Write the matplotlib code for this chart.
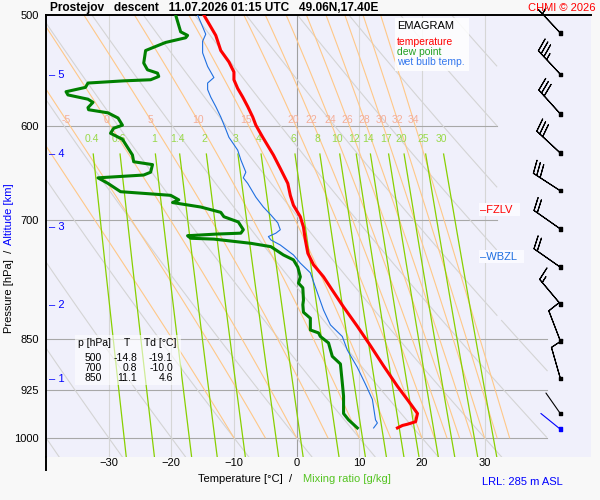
import numpy as np
import matplotlib.pyplot as plt
from matplotlib.patches import Rectangle
from matplotlib.lines import Line2D
from matplotlib.ticker import NullLocator

plt.rcParams['font.family'] = ['Liberation Sans', 'DejaVu Sans']

# --- sounding (descent) ---
temp_p = [500, 517, 530, 540, 549, 556, 564, 572, 581, 591, 599, 611, 629, 643, 659, 672, 683, 696,
          708, 723, 739, 753, 768, 785, 807, 833, 860, 889, 919, 946, 961, 974, 978, 980, 984]
temp_t = [-14.8, -12.9, -12.1, -10.8, -10.0, -10.0, -9.4, -8.6, -7.8, -7.0, -6.5, -5.4, -3.7, -2.6,
          -1.4, -1.0, -0.5, 0.6, 1.1, 1.4, 1.8, 2.7, 4.3, 5.7, 7.5, 9.7, 11.8, 13.9, 16.1, 18.2,
          19.3, 19.0, 17.7, 16.9, 16.1]

dew_p = [500, 514, 517, 519, 523, 530, 541, 547, 550, 553, 556, 557, 559, 563, 567, 570, 574, 577,
         582, 584, 587, 592, 599, 602, 607, 613, 621, 629, 636, 639, 647, 650, 653, 659, 668, 672,
         677, 680, 685, 691, 696, 702, 711, 715, 716, 718, 721, 722, 727, 731, 741, 747, 756, 768,
         776, 782, 798, 804, 814, 822, 838, 842, 847, 856, 875, 886, 914, 934, 961, 971, 984]
dew_t = [-19.3, -18.5, -17.4, -17.7, -20.9, -24.1, -24.4, -23.8, -22.2, -22.0, -23.3, -27.6, -33.3,
         -33.7, -36.8, -36.5, -33.3, -32.5, -33.3, -33.2, -30.1, -28.5, -27.8, -29.2, -29.7, -27.8,
         -27.0, -26.2, -26.0, -23.0, -23.3, -24.4, -31.7, -30.1, -28.1, -20.1, -18.8, -19.8, -15.3,
         -12.1, -11.6, -9.3, -8.5, -8.9, -12.6, -17.4, -16.9, -13.2, -7.3, -4.1, -2.1, -0.5, 0.2,
         0.6, 0.3, 1.0, 1.1, 1.0, 1.1, 2.2, 2.2, 3.5, 3.8, 5.1, 5.7, 7.0, 7.3, 7.5, 7.5, 8.3, 9.7]

wet_p = [500, 506, 516, 522, 532, 544, 554, 559, 565, 572, 581, 591, 603, 611, 624, 634, 647, 653,
         659, 674, 685, 694, 703, 711, 715, 719, 723, 729, 741, 751, 763, 781, 811, 831, 847, 866,
         891, 916, 939, 971, 976, 984]
wet_t = [-15.8, -15.3, -14.5, -15.0, -15.0, -14.2, -13.2, -14.2, -14.2, -13.7, -12.9, -12.1, -11.3,
         -10.8, -9.4, -8.9, -8.1, -8.5, -7.8, -6.5, -5.3, -4.1, -3.0, -2.6, -3.3, -4.5, -4.1, -2.6,
         -0.5, 0.6, 2.2, 3.0, 4.3, 5.4, 7.3, 8.1, 9.7, 11.0, 12.1, 12.6, 12.9, 12.3]

# wind (deg, kt)
wind_p = [515, 551, 588, 627, 667, 710, 756, 803, 853, 907, 961, 986]
wind_dir = [317, 317, 318, 313, 303, 305, 305, 320, 339, 344, 325, 309]
wind_spd = [5, 35, 30, 30, 30, 20, 20, 15, 10, 10, 0, 0]

alt_km = [1, 2, 3, 4, 5]
alt_p = [908, 805, 708, 628, 552]

fzlv_p = 688
wbzl_p = 743

tab_p = [500, 700, 850]
tab_t = [-14.8, 0.8, 11.1]
tab_td = [-19.1, -10.0, 4.6]

p_ticks = [500, 600, 700, 850, 925, 1000]
t_ticks = [-30, -20, -10, 0, 10, 20, 30]
dry_theta = list(range(-40, 110, 10))
wet_theta = [-10, -5, 0, 5, 10, 15, 20, 22, 24, 26, 28, 30, 32, 34]
mix_ratio = [0.4, 0.6, 1, 1.4, 2, 3, 4, 6, 8, 10, 12, 14, 17, 20, 25, 30]

P_TOP, P_BOT = 500, 1032


def px(x, y):
    return x / 600, 1 - y / 500


def clip(t, p):
    t = np.array(t, float)
    lim = np.where(p < 825, 32.0, 40.0)
    t[t > lim] = np.nan
    return t


def pseudo_adiabat(tw, p):
    Rd, cp, Lv, eps = 287.04, 1005.7, 2.501e6, 0.622
    T = tw + 273.15
    out = [T]
    for i in range(1, len(p)):
        dp = p[i] - p[i - 1]
        for _ in range(2):
            tc = T - 273.15
            es = 6.112 * np.exp(17.67 * tc / (tc + 243.5))
            rs = eps * es / (p[i - 1] - es)
            dtdp = (Rd * T + Lv * rs) / (p[i - 1] * (cp + Lv ** 2 * rs * eps / (Rd * T ** 2)))
            T = T + dtdp * dp / 2
        out.append(T)
    return np.array(out) - 273.15


def mix_temp(w, p):
    e = w / 1000 * p / (0.622 + w / 1000)
    a = np.log(e / 6.112)
    return 243.5 * a / (17.67 - a)


fig = plt.figure(figsize=(6, 5), dpi=100, facecolor='#f8f8f8')
ax = fig.add_axes([46 / 600, 1 - 457 / 500, 545 / 600, 442 / 500])
ax.set_facecolor('#f0f0fb')
ax.set_yscale('log')
ax.set_xlim(-40, 47)
ax.set_ylim(P_BOT, P_TOP)

# grid
for t in t_ticks:
    ax.axvline(t, color='#a0a0a0' if t == 0 else '#d6d6d6', lw=0.8, zorder=1)
for p in p_ticks[1:]:
    ax.plot([-40, 32 if p < 800 else 40], [p, p], color='#a8a8a8', lw=0.8, zorder=1)

# dry adiabats
pp = np.geomspace(P_TOP, P_BOT, 600)
for th in dry_theta:
    tt = (th + 273.15) * (pp / 1000) ** 0.2857 - 273.15
    ax.plot(clip(tt, pp), pp, color='#d4d4d4', lw=0.8, zorder=1)

# moist adiabats
pm = np.geomspace(1000, P_TOP, 400)
for tw in wet_theta:
    tt = pseudo_adiabat(tw, pm)
    ax.plot(clip(tt, pm), pm, color='#ffc888', lw=0.8, zorder=1)
    if tw >= -5:
        tl = np.interp(np.log(594), np.log(pm[::-1]), tt[::-1])
        ax.text(tl, 594, f'{tw:g}', color='#f4ae98', fontsize=7.5, ha='center', va='center', zorder=2)

# mixing ratio lines
pw = np.geomspace(628, P_BOT, 300)
for w in mix_ratio:
    tt = mix_temp(w, pw)
    ax.plot(clip(tt, pw), pw, color='#88d000', lw=0.9, zorder=2)
    ax.text(mix_temp(w, 613), 613, f'{w:g}', color='#99d94a', fontsize=7.5, ha='center', va='center', zorder=2)

# profiles
ax.plot(wet_t, wet_p, color='#1f6fe0', lw=0.8, zorder=4)
ax.plot(dew_t, dew_p, color='#008000', lw=2.2, zorder=5)
ax.plot(temp_t, temp_p, color='#ff0000', lw=2.2, zorder=6)

# wind barbs
bx = 42.1
spd = np.array(wind_spd, float)
rad = np.deg2rad(wind_dir)
u = -spd * np.sin(rad)
v = -spd * np.cos(rad)
has = spd > 0
ax.barbs(np.full(has.sum(), bx), np.array(wind_p)[has], u[has], v[has],
         length=6.8, lw=0.8, color='black', clip_on=False, zorder=7)
for p, d, s in zip(wind_p, wind_dir, wind_spd):
    if s == 0:
        r = np.deg2rad(d)
        col = 'blue' if p == wind_p[-1] else 'black'
        ax.annotate('', xy=(bx, p), xytext=(18 * np.sin(r), 18 * np.cos(r)), textcoords='offset points',
                    arrowprops=dict(arrowstyle='-', color=col, lw=0.8, shrinkA=0, shrinkB=0), zorder=7)
cols = ['black'] * (len(wind_p) - 1) + ['blue']
ax.scatter([bx] * len(wind_p), wind_p, marker='s', s=6, c=cols, zorder=8, clip_on=False)

# altitude marks
for km, p in zip(alt_km, alt_p):
    ax.text(-39.6, p, f'\u2013 {km}', color='blue', fontsize=8, va='center', ha='left', zorder=3)

# freezing levels
ax.text(29.3, fzlv_p, '\u2013FZLV  ', color='red', fontsize=8, va='center', ha='left', zorder=7,
        bbox=dict(fc='#fafaff', ec='none', pad=1))
ax.text(29.3, wbzl_p, '\u2013WBZL  ', color='#1f6fe0', fontsize=8, va='center', ha='left', zorder=7,
        bbox=dict(fc='#fafaff', ec='none', pad=1))

# axes
ax.set_yticks(p_ticks)
ax.set_yticklabels([str(p) for p in p_ticks])
ax.yaxis.set_minor_locator(NullLocator())
ax.set_xticks(t_ticks)
ax.tick_params(length=0, labelsize=8)
ax.tick_params(axis='y', pad=5)
ax.tick_params(axis='x', pad=1)
for s in ['right', 'bottom']:
    ax.spines[s].set_visible(False)
ax.spines['top'].set_linewidth(1.4)
ax.spines['left'].set_linewidth(1.4)
fig.add_artist(Line2D([46 / 600, 46 / 600], [1 - 457 / 500, 1 - 470 / 500], color='black', lw=1.4))

# legend box
x0, y0 = px(395, 71)
fig.patches.append(Rectangle((x0, y0), 74 / 600, 53 / 500, transform=fig.transFigure,
                             fc='white', ec='none', alpha=0.85, figure=fig))
fig.text(*px(397, 26), 'EMAGRAM', fontsize=8, va='center')
fig.text(*px(397, 42), 'temperature', fontsize=7.5, color='red', va='center')
fig.text(*px(397, 52), 'dew point', fontsize=7.5, color='#22a022', va='center')
fig.text(*px(397, 62), 'wet bulb temp.', fontsize=7.5, color='#3377ee', va='center')

# table box
x0, y0 = px(75, 385)
fig.patches.append(Rectangle((x0, y0), 106 / 600, 50 / 500, transform=fig.transFigure,
                             fc='white', ec='none', alpha=0.6, figure=fig))
fig.text(*px(78, 343), 'p [hPa]', fontsize=7.5, va='center')
fig.text(*px(127, 343), 'T', fontsize=7.5, va='center', ha='center')
fig.text(*px(144, 343), 'Td [°C]', fontsize=7.5, va='center')
for i, (p, t, td) in enumerate(zip(tab_p, tab_t, tab_td)):
    y = 358 + 10 * i
    fig.text(*px(102, y), f'{p}', fontsize=7.5, va='center', ha='right')
    fig.text(*px(137, y), f'{t:.1f}', fontsize=7.5, va='center', ha='right')
    fig.text(*px(173, y), f'{td:.1f}', fontsize=7.5, va='center', ha='right')

# titles and labels
fig.text(*px(50, 8), 'Prostejov   descent   11.07.2026 01:15 UTC   49.06N,17.40E',
         fontsize=8.6, fontweight='bold', va='center')
fig.text(*px(596, 8), 'CHMI © 2026', fontsize=8, color='red', va='center', ha='right')
fig.text(*px(9, 333), 'Pressure [hPa]  /', fontsize=8, rotation=90, va='bottom', ha='center')
fig.text(*px(9, 183), 'Altitude [km]', fontsize=8, rotation=90, va='top', ha='center', color='blue')
fig.text(*px(198, 479), 'Temperature [°C]  /', fontsize=8, va='center')
fig.text(*px(303, 479), 'Mixing ratio [g/kg]', fontsize=8, va='center', color='#55c422')
fig.text(*px(482, 482), 'LRL: 285 m ASL', fontsize=8, va='center', color='blue')

fig.savefig('out.png', dpi=100, facecolor=fig.get_facecolor())
